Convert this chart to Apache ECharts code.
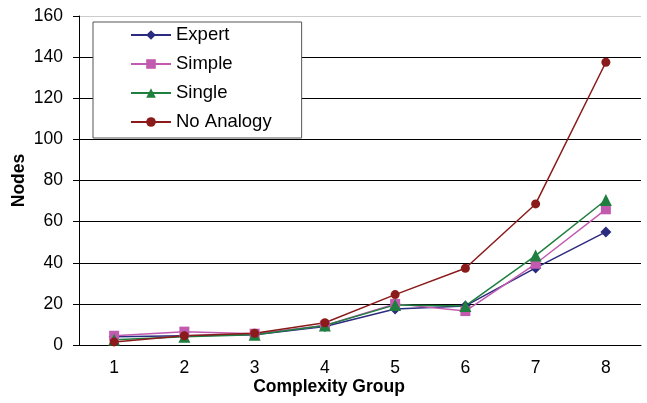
<!DOCTYPE html>
<html>
<head>
<meta charset="utf-8">
<script src="https://cdn.jsdelivr.net/npm/echarts@6/dist/echarts.min.js"></script>
<style>
  html,body{margin:0;padding:0;background:#fff;}
  #chart{width:647px;height:403px;}
</style>
</head>
<body>
<div id="chart"></div>
<script>
const groups = ["1","2","3","4","5","6","7","8"];
const expert = [4, 4.5, 5, 9, 17.5, 19, 37.5, 55];
const simple = [4.5, 6.5, 5.5, 9.5, 20, 16.5, 39.5, 66];
const single = [2.5, 4, 5, 9.5, 19.5, 19, 43.5, 70.5];
const noAnalogy = [1.5, 4.5, 5.7, 10.8, 24.5, 37.3, 68.6, 137.5];

const font = "'Liberation Sans', Arial, sans-serif";
const chart = echarts.init(document.getElementById("chart"));

function line(name, data, color, symbol, size){
  return {name, type:"line", data, symbol, symbolSize:size, showAllSymbol:true,
    itemStyle:{color}, lineStyle:{color, width:1.5}, animation:false};
}

chart.setOption({
  backgroundColor:"#fff",
  textStyle:{fontFamily:font},
  grid:{left:79, right:6, top:16, bottom:58, outerBoundsMode:"none"},
  legend:{
    orient:"vertical", left:93, top:22,
    padding:[3,30,6,37], itemGap:9, itemWidth:40, itemHeight:12,
    backgroundColor:"#fff", borderColor:"#555", borderWidth:1,
    textStyle:{fontSize:18.5, color:"#000", fontFamily:font, lineHeight:20},
    data:["Expert","Simple","Single","No Analogy"]
  },
  xAxis:{
    type:"category", data:groups, boundaryGap:true,
    name:"Complexity Group", nameLocation:"middle", nameGap:33, nameMoveOverlap:false,
    nameTextStyle:{fontSize:17.5, fontWeight:"bold", color:"#000", padding:[0,62,0,0]},
    axisLine:{lineStyle:{color:"#000", width:1}},
    axisTick:{inside:true, length:5, lineStyle:{color:"#000"}},
    axisLabel:{fontSize:17.5, color:"#000", margin:14}
  },
  yAxis:{
    type:"value", min:0, max:160, interval:20,
    name:"Nodes", nameLocation:"middle", nameGap:51, nameRotate:90, nameMoveOverlap:false,
    nameTextStyle:{fontSize:17.5, fontWeight:"bold", color:"#000"},
    axisLine:{show:true, lineStyle:{color:"#000", width:1}},
    axisTick:{show:true, length:6, lineStyle:{color:"#000"}},
    axisLabel:{fontSize:17.5, color:"#000", margin:16},
    splitLine:{lineStyle:{color:["#000","#000","#000","#000","#000","#000","#000","#000","#ccc"], width:1}}
  },
  series:[
    line("Expert", expert, "#2b2b7f", "diamond", 11),
    line("Simple", simple, "#c25bb0", "rect", 10),
    line("Single", single, "#1f7f3f", "triangle", 12),
    line("No Analogy", noAnalogy, "#8b1a1a", "circle", 9)
  ]
});
</script>
</body>
</html>
